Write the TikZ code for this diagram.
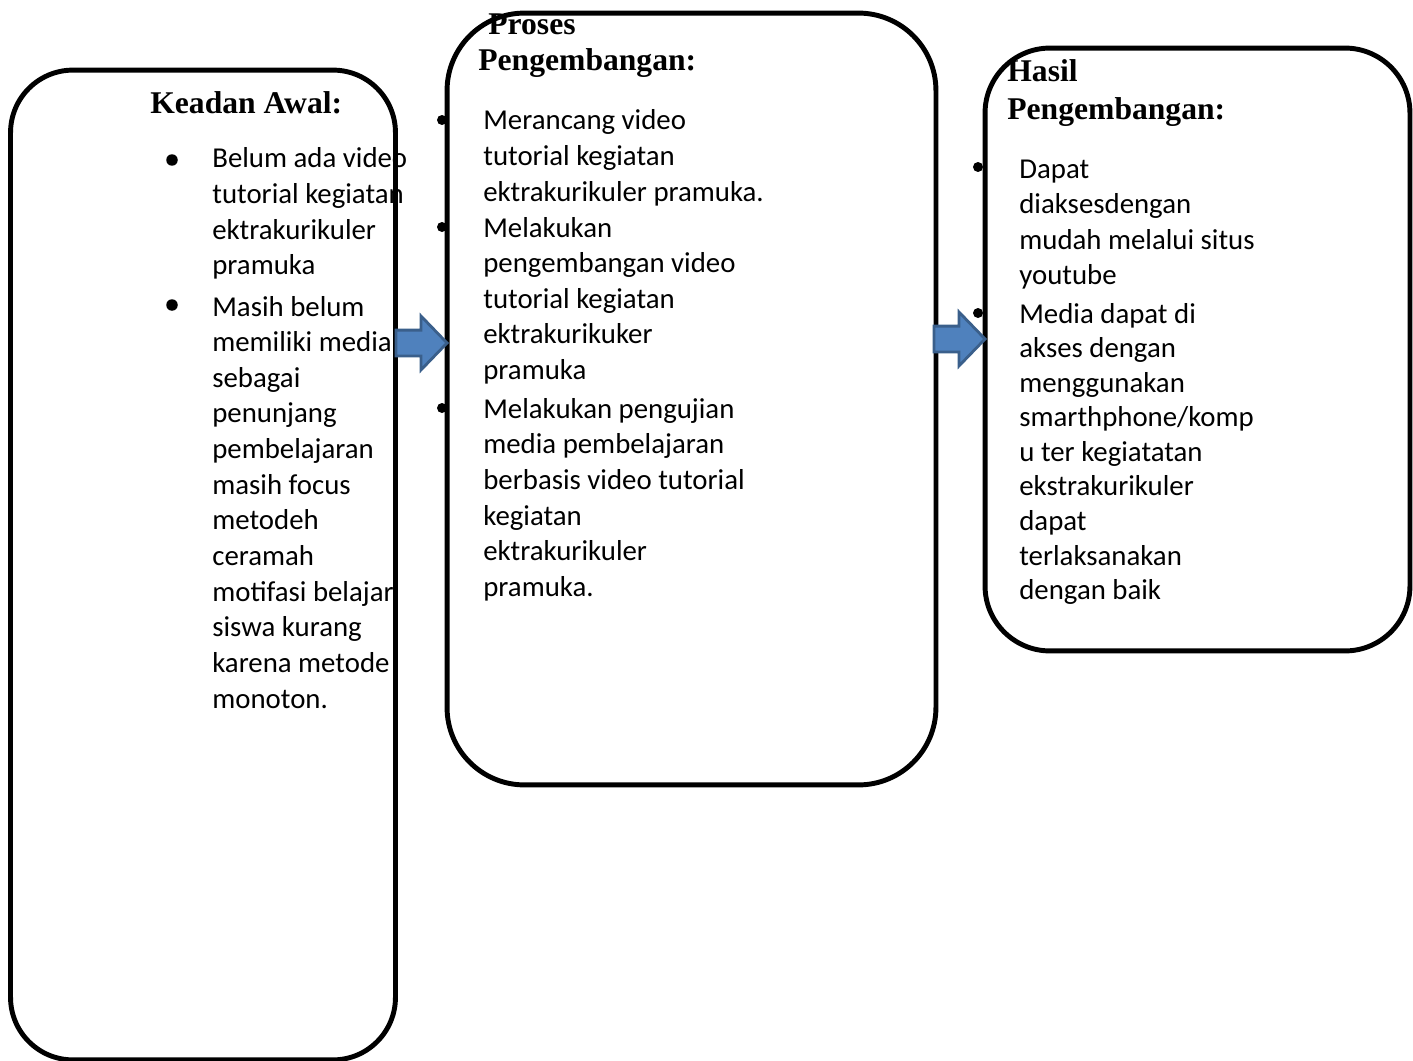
\documentclass[tikz,border=0pt]{standalone}
\usepackage{fontspec}
\setmainfont{Carlito}
\newfontfamily\headfont{Liberation Serif}
\usetikzlibrary{shapes.arrows,positioning}
\definecolor{arrowfill}{HTML}{4F81BD}
\definecolor{arrowline}{HTML}{3A5F8B}
\newcommand{\stacklines}[1]{\begin{tabular}[t]{@{}l@{}}#1\end{tabular}}
\tikzset{
  stage/.style={
    draw,
    line width=2.8pt,
    inner sep=0,
    outer sep=0
  },
  blockarrow/.style={
    single arrow,
    draw=arrowline,
    fill=arrowfill,
    line width=1.6pt,
    inner xsep=0,
    inner ysep=0.23cm,
    outer sep=0,
    minimum height=1.02cm,
    single arrow head extend=0.28cm,
    single arrow tip angle=92
  },
  headtext/.style={
    anchor=base west,
    inner sep=0,
    font=\headfont\bfseries\fontsize{18}{21}\selectfont
  },
  bodytext/.style={
    anchor=base west,
    inner sep=0,
    font=\fontsize{16.4}{20.3}\selectfont
  },
  dot/.style={
    shape=circle,
    fill,
    inner sep=0,
    minimum size=0.2cm
  }
}
\begin{document}
\begin{tikzpicture}[x=0.02cm,y=-0.02cm]
  \useasboundingbox (0,0) rectangle (1413,1061);
  % the three stages
  \node[stage, minimum width=7.7cm, minimum height=19.8cm, rounded corners=1.25cm] (awal) at (203,565) {};
  \node[stage, minimum width=9.78cm, minimum height=15.44cm, rounded corners=1.55cm] (proses) at (691.5,399) {};
  \node[stage, minimum width=8.5cm, minimum height=12.06cm, rounded corners=1.3cm] (hasil) at (1197.5,349.5) {};
  % headings
  \node[headtext] (hawal) at (150,113) {Keadan Awal:};
  \node[headtext] (hproses) at (478,35) {\stacklines{\hspace*{0.2cm}Proses\\[-1pt]Pengembangan:}};
  \node[headtext] (hhasil) at (1007,82) {\stacklines{Hasil\\[0.5pt]Pengembangan:}};
  % items
  \node[bodytext] (awal1) at (212,168) {\stacklines{Belum ada video\\tutorial kegiatan\\ektrakurikuler\\pramuka}};
  \node[bodytext] (awal2) at (212,316) {\stacklines{Masih belum\\memiliki media\\sebagai\\penunjang\\pembelajaran\\masih focus\\metodeh\\ceramah\\motifasi belajar\\siswa kurang\\karena metode\\monoton.}};
  \node[bodytext] (proses1) at (483,130) {\stacklines{Merancang video\\tutorial kegiatan\\ektrakurikuler pramuka.}};
  \node[bodytext] (proses2) at (483,237) {\stacklines{Melakukan\\pengembangan video\\tutorial kegiatan\\ektrakurikuker\\pramuka}};
  \node[bodytext] (proses3) at (483,418) {\stacklines{Melakukan pengujian\\media pembelajaran\\berbasis video tutorial\\kegiatan\\ektrakurikuler\\pramuka.}};
  \node[bodytext] (hasil1) at (1019,178) {\stacklines{Dapat\\diaksesdengan\\mudah melalui situs\\youtube}};
  \node[bodytext] (hasil2) at (1019,323) {\renewcommand{\arraystretch}{0.97}\stacklines{Media dapat di\\akses dengan\\menggunakan\\smarthphone/komp\\u ter kegiatatan\\ekstrakurikuler\\dapat\\terlaksanakan\\dengan baik}};
  \foreach \n/\x/\y in {a1/172/160,a2/172/305}{
    \node[dot, minimum size=0.23cm] (b\n) at (\x,\y) {};
  }
  \foreach \n/\x/\y in {p1/442/120,p2/442/227,p3/442/408,h1/978/167,h2/978/313}{
    \node[dot] (b\n) at (\x,\y) {};
  }
  % arrows between stages
  \coordinate (lvl1) at (0,343);
  \coordinate (lvl2) at (0,339);
  \node[blockarrow, anchor=tip] (panah1) at (proses.west |- lvl1) {};
  \node[blockarrow, anchor=tip] (panah2) at (hasil.west |- lvl2) {};
\end{tikzpicture}
\end{document}
